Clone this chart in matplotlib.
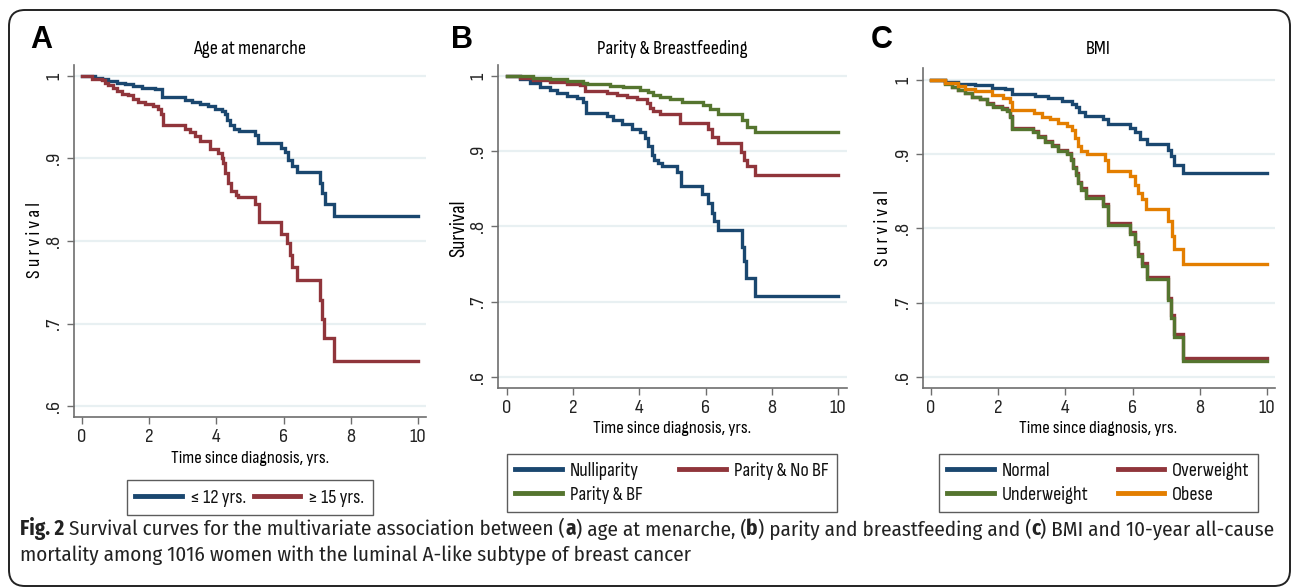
import numpy as np
import matplotlib
matplotlib.use("Agg")
import matplotlib.pyplot as plt
from matplotlib.patches import FancyBboxPatch
from matplotlib.lines import Line2D

W, H = 1293, 588
FONT = ['Sofia Sans Condensed', 'Roboto Condensed', 'DejaVu Sans']
CAPFONT = ['Fira Sans Condensed', 'Open Sans', 'DejaVu Sans']
plt.rcParams['font.family'] = FONT
plt.rcParams['font.weight'] = 'medium'

NAVY, MAROON, GREEN, ORANGE = '#1a476f', '#90353b', '#55752f', '#e37e00'
GRID = '#e8f0f2'
AXC = '#6e6e6e'
END_TIME = 10

# ---- panel A: age at menarche
a_le12_t = [0, 0.39, 0.59, 0.78, 1.03, 1.28, 1.53, 1.78, 2.17, 2.39, 3.07, 3.26, 3.51, 3.76, 3.96, 4.16,
            4.26, 4.33, 4.40, 4.53, 4.67, 5.15, 5.25, 5.92, 6.04, 6.14, 6.26, 6.39, 7.08, 7.15, 7.23, 7.51]
a_le12_s = [1.0, 0.998, 0.996, 0.9935, 0.9915, 0.990, 0.988, 0.986, 0.984, 0.974, 0.9714, 0.969, 0.9665,
            0.964, 0.9605, 0.9577, 0.9536, 0.947, 0.940, 0.936, 0.933, 0.928, 0.919, 0.913, 0.908, 0.898,
            0.891, 0.884, 0.870, 0.858, 0.845, 0.830]
a_ge15_t = [0, 0.29, 0.59, 0.68, 0.78, 0.93, 1.03, 1.18, 1.38, 1.53, 1.68, 1.88, 2.12, 2.25, 2.35, 2.42,
            3.07, 3.21, 3.36, 3.51, 3.81, 4.06, 4.16, 4.21, 4.26, 4.36, 4.45, 4.57, 4.65, 5.15, 5.27, 5.92,
            6.09, 6.19, 6.26, 6.39, 7.08, 7.15, 7.21, 7.51]
a_ge15_s = [1.0, 0.9968, 0.9948, 0.9915, 0.9887, 0.986, 0.982, 0.978, 0.9766, 0.9726, 0.9685, 0.9665,
            0.9633, 0.9605, 0.9544, 0.940, 0.936, 0.932, 0.927, 0.921, 0.911, 0.907, 0.901, 0.894, 0.882,
            0.870, 0.861, 0.856, 0.853, 0.845, 0.823, 0.809, 0.797, 0.783, 0.769, 0.753, 0.729, 0.706,
            0.682, 0.655]

# ---- panel B: parity & breastfeeding
b_null_t = [0, 0.39, 0.69, 1.00, 1.30, 1.50, 1.80, 2.10, 2.29, 2.39, 3.03, 3.21, 3.46, 3.77, 4.02, 4.17,
            4.27, 4.37, 4.44, 4.57, 4.67, 5.13, 5.26, 5.88, 6.08, 6.18, 6.25, 6.38, 7.09, 7.16, 7.22, 7.49]
b_null_s = [1.0, 0.9956, 0.991, 0.9858, 0.982, 0.978, 0.9735, 0.9704, 0.966, 0.951, 0.947, 0.9416, 0.936,
            0.929, 0.925, 0.917, 0.907, 0.895, 0.888, 0.884, 0.880, 0.873, 0.854, 0.843, 0.831, 0.818,
            0.807, 0.795, 0.773, 0.754, 0.731, 0.708]
b_nobf_t = [0, 0.39, 0.80, 1.30, 1.80, 2.21, 2.36, 3.01, 3.31, 3.62, 3.92, 4.22, 4.32, 4.42, 4.62, 5.23,
            6.08, 6.18, 6.38, 7.06, 7.16, 7.24, 7.49]
b_nobf_s = [1.0, 0.9969, 0.9947, 0.9925, 0.990, 0.988, 0.9805, 0.978, 0.975, 0.972, 0.969, 0.9646, 0.958,
            0.953, 0.9496, 0.938, 0.929, 0.919, 0.9115, 0.8996, 0.889, 0.880, 0.868]
b_bf_t = [0, 0.80, 1.30, 1.80, 2.31, 2.43, 3.11, 3.51, 4.02, 4.27, 4.42, 4.62, 4.92, 5.28, 5.93, 6.13,
          6.38, 7.09, 7.24, 7.49]
b_bf_s = [1.0, 0.9978, 0.996, 0.9938, 0.991, 0.989, 0.987, 0.985, 0.982, 0.979, 0.975, 0.9717, 0.969,
          0.965, 0.9615, 0.956, 0.9496, 0.941, 0.932, 0.925]

# ---- panel C: BMI
c_norm_t = [0, 0.42, 0.81, 1.31, 1.81, 2.20, 2.40, 3.10, 3.49, 3.89, 4.19, 4.31, 4.40, 4.58, 5.13, 5.28,
            5.92, 6.07, 6.22, 6.42, 7.06, 7.14, 7.24, 7.51]
c_norm_s = [1.0, 0.9973, 0.995, 0.9929, 0.9897, 0.9875, 0.9808, 0.9786, 0.975, 0.972, 0.968, 0.9638,
            0.957, 0.952, 0.947, 0.940, 0.9357, 0.9295, 0.921, 0.914, 0.906, 0.897, 0.886, 0.874]
c_obese_t = [0, 0.42, 0.81, 1.01, 1.31, 1.81, 2.15, 2.35, 2.42, 3.08, 3.29, 3.54, 3.79, 4.04, 4.19, 4.29,
             4.37, 4.48, 4.63, 5.18, 5.28, 5.92, 6.07, 6.17, 6.27, 6.39, 7.06, 7.16, 7.24, 7.51]
c_obese_s = [1.0, 0.9964, 0.992, 0.9875, 0.985, 0.980, 0.976, 0.9705, 0.9594, 0.955, 0.950, 0.947,
             0.9415, 0.938, 0.9326, 0.9214, 0.9116, 0.9045, 0.900, 0.892, 0.878, 0.870, 0.859, 0.848,
             0.839, 0.826, 0.810, 0.790, 0.773, 0.752]
c_under_t = [0, 0.42, 0.62, 0.81, 1.01, 1.21, 1.46, 1.66, 1.86, 2.10, 2.25, 2.35, 2.42, 3.05, 3.19, 3.39,
             3.59, 3.79, 4.04, 4.17, 4.24, 4.31, 4.38, 4.48, 4.60, 5.13, 5.28, 5.92, 6.07, 6.17, 6.27,
             6.42, 7.06, 7.14, 7.24, 7.51]
c_under_s = [1.0, 0.995, 0.9906, 0.986, 0.9817, 0.977, 0.974, 0.968, 0.964, 0.9607, 0.958, 0.9504, 0.934,
             0.9295, 0.9237, 0.917, 0.9116, 0.9045, 0.900, 0.8924, 0.881, 0.872, 0.861, 0.852, 0.841,
             0.830, 0.805, 0.793, 0.779, 0.763, 0.750, 0.732, 0.703, 0.680, 0.654, 0.622]
c_over_t = c_under_t
c_over_s = [1.0, 0.9955, 0.991, 0.9865, 0.9822, 0.9776, 0.9746, 0.9687, 0.9648, 0.9615, 0.9589, 0.9514,
            0.935, 0.9306, 0.9249, 0.9183, 0.913, 0.906, 0.9016, 0.894, 0.8827, 0.874, 0.863, 0.8542,
            0.8433, 0.8324, 0.8075, 0.7957, 0.7818, 0.7659, 0.7531, 0.7352, 0.7063, 0.6834, 0.6575, 0.626]

yticks = [0.6, 0.7, 0.8, 0.9, 1.0]
ytick_labels = ['.6', '.7', '.8', '.9', '1']
xticks = [0, 2, 4, 6, 8, 10]
xlabel = 'Time since diagnosis, yrs.'

fig = plt.figure(figsize=(W / 100, H / 100), dpi=100)


def px_axes(l, t, r, b):
    return fig.add_axes([l / W, 1 - b / H, (r - l) / W, (b - t) / H])


def ftext(x, y, s, **kw):
    return fig.text(x / W, 1 - y / H, s, **kw)


def km(ax, t, s, color):
    tt = list(t) + [END_TIME]
    ss = list(s) + [s[-1]]
    ax.step(tt, ss, where='post', color=color, lw=2.4, solid_joinstyle='miter')


def style(ax, xlim, ylim):
    ax.set_xlim(*xlim)
    ax.set_ylim(*ylim)
    for sp in ['top', 'right']:
        ax.spines[sp].set_visible(False)
    for sp in ['left', 'bottom']:
        ax.spines[sp].set_color(AXC)
        ax.spines[sp].set_linewidth(1.2)
    ax.set_yticks(yticks)
    ax.set_yticklabels(ytick_labels, rotation=90, va='center')
    ax.set_xticks(xticks)
    ax.tick_params(direction='out', length=5, color=AXC, width=1, labelsize=15, pad=3,
                   labelcolor='#222222')
    for y in yticks:
        ax.axhline(y, color=GRID, lw=1.6, zorder=0)


def legend(handles, labels, x0, y0, x1, y1):
    leg = fig.legend(handles, labels, loc='center',
                     bbox_to_anchor=(x0 / W, 1 - y1 / H, (x1 - x0) / W, (y1 - y0) / H),
                     mode='expand', ncol=2, fontsize=14.5, frameon=True, fancybox=False,
                     handlelength=2.3, handletextpad=0.4, borderaxespad=0, borderpad=0.42,
                     labelspacing=0.28)
    leg.get_frame().set_edgecolor('#333333')
    leg.get_frame().set_linewidth(1.0)
    for t in leg.get_texts():
        t.set_color('#111111')
    return leg


def h(color):
    return Line2D([], [], color=color, lw=3.5)


# Panel A
axA = px_axes(74, 65, 426, 417)
style(axA, (-0.238, 10.24), (0.5867, 1.0133))
km(axA, a_le12_t, a_le12_s, NAVY)
km(axA, a_ge15_t, a_ge15_s, MAROON)
ftext(250, 49, 'Age at menarche', ha='center', va='center', fontsize=14.5)
ftext(250, 459, xlabel, ha='center', va='center', fontsize=13.5)
ftext(35, 240, 'S u r v i v a l', ha='center', va='center', rotation=90, fontsize=14.5)
ftext(30, 40, 'A', ha='left', va='center', fontsize=22, fontweight='bold', family='Liberation Sans')
legend([h(NAVY), h(MAROON)], ['\u2264 12 yrs.', '\u2265 15 yrs.'], 127, 478, 373, 517)

# Panel B
axB = px_axes(498, 65, 847, 388)
style(axB, (-0.272, 10.27), (0.5854, 1.0146))
km(axB, b_null_t, b_null_s, NAVY)
km(axB, b_nobf_t, b_nobf_s, MAROON)
km(axB, b_bf_t, b_bf_s, GREEN)
ftext(672, 49, 'Parity & Breastfeeding', ha='center', va='center', fontsize=14.5)
ftext(672, 429, xlabel, ha='center', va='center', fontsize=13.5)
ftext(459, 228, 'Survival', ha='center', va='center', rotation=90, fontsize=15.5)
ftext(451, 40, 'B', ha='left', va='center', fontsize=22, fontweight='bold', family='Liberation Sans')
legend([h(NAVY), h(GREEN), h(MAROON)], ['Nulliparity', 'Parity & BF', 'Parity & No BF'],
       507, 449, 837, 517)

# Panel C
axC = px_axes(923, 68, 1275, 388)
style(axC, (-0.238, 10.24), (0.5852, 1.016))
km(axC, c_norm_t, c_norm_s, NAVY)
km(axC, c_over_t, c_over_s, MAROON)
km(axC, c_under_t, c_under_s, GREEN)
km(axC, c_obese_t, c_obese_s, ORANGE)
ftext(1098, 49, 'BMI', ha='center', va='center', fontsize=14.5)
ftext(1098, 429, xlabel, ha='center', va='center', fontsize=13.5)
ftext(883, 228, 'S u r v i v a l', ha='center', va='center', rotation=90, fontsize=14.5)
ftext(871, 40, 'C', ha='left', va='center', fontsize=22, fontweight='bold', family='Liberation Sans')
legend([h(NAVY), h(GREEN), h(MAROON), h(ORANGE)], ['Normal', 'Underweight', 'Overweight', 'Obese'],
       939, 449, 1258, 517)

# outer rounded frame
frame = FancyBboxPatch((0.09, 0.02), 12.81, 5.76, boxstyle='round,pad=0,rounding_size=0.16',
                       transform=fig.dpi_scale_trans, fill=False, edgecolor='#222222', lw=1.4)
fig.patches.append(frame)

# caption with bold pieces, sized so the first line spans the frame width
cap1 = [('Fig. 2', 'bold'), (' Survival curves for the multivariate association between (', 'normal'),
        ('a', 'bold'), (') age at menarche, (', 'normal'), ('b', 'bold'),
        (') parity and breastfeeding and (', 'normal'), ('c', 'bold'),
        (') BMI and 10-year all-cause', 'normal')]
cap2 = [('mortality among 1016 women with the luminal A-like subtype of breast cancer', 'normal')]

fig.canvas.draw()
renderer = fig.canvas.get_renderer()
base = 12
total = 0
for s, wgt in cap1:
    t = ftext(0, 0, s, fontsize=base, fontweight=wgt, family=CAPFONT)
    total += t.get_window_extent(renderer).width
    t.remove()
cap_size = base * 1258 / total

for parts, ypx in [(cap1, 529), (cap2, 555)]:
    x = 20
    for s, wgt in parts:
        t = ftext(x, ypx, s, ha='left', va='center', fontsize=cap_size, fontweight=wgt,
                  color='#222222', family=CAPFONT)
        x += t.get_window_extent(renderer).width

fig.savefig('out.png', dpi=100)
